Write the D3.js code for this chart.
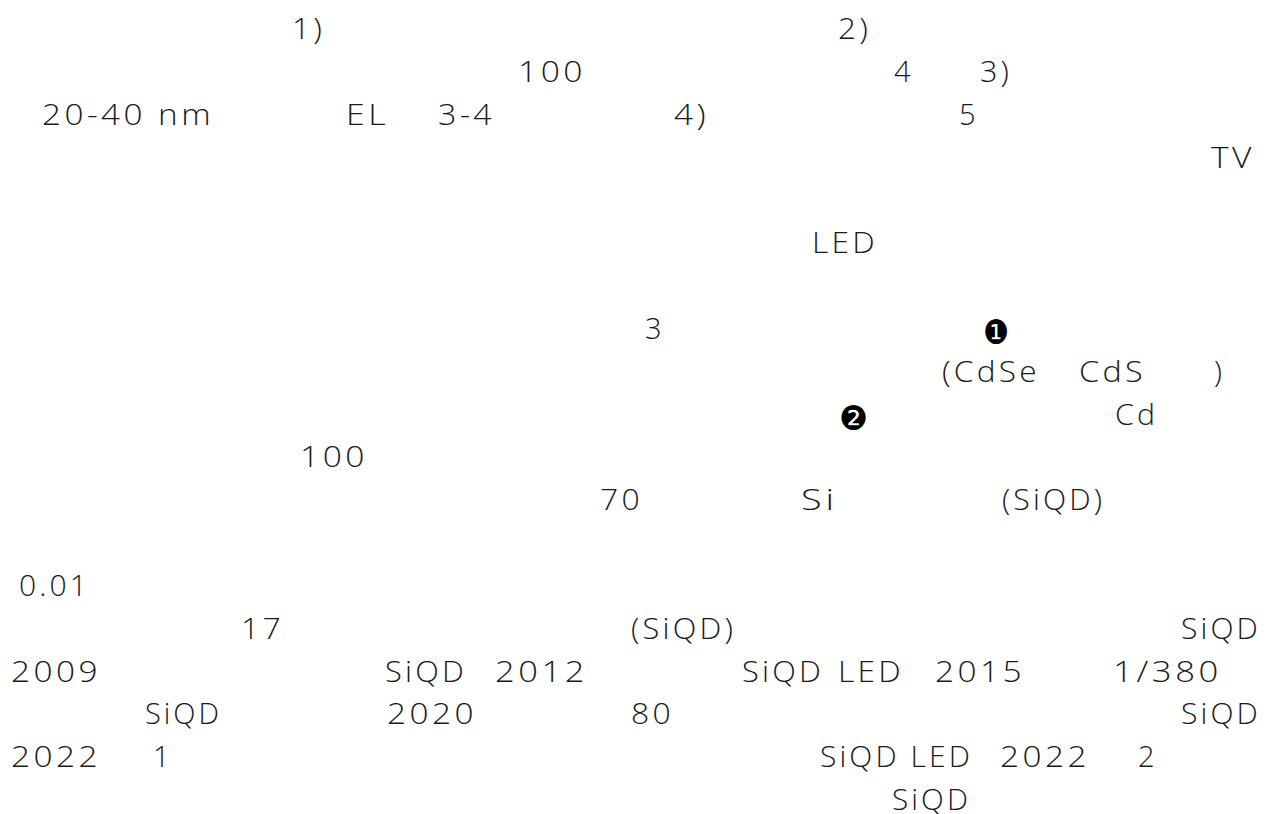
<!DOCTYPE html>
<html>
<head>
<meta charset="utf-8">
<script src="https://cdn.jsdelivr.net/npm/d3@7"></script>
<style>
  html, body { margin: 0; padding: 0; background: #fff; }
  svg { display: block; }
</style>
</head>
<body>
<div class="chart"></div>
<script>
// visible fragments of each text line: [line, from, to, text]
// (the Japanese glyphs of the source did not render, only these pieces show)
const fragments = [
  [0, 293, 322, "1)"], [0, 839, 868, "2)"],
  [1, 519, 583, "100"], [1, 895, 913, "4"], [1, 981, 1009, "3)"],
  [2, 43, 211, "20-40 nm"], [2, 347, 386, "EL"], [2, 439, 492, "3-4"], [2, 675, 706, "4)"], [2, 960, 977, "5"],
  [3, 1212, 1252, "TV"],
  [5, 813, 875, "LED"],
  [7, 646, 659, "3"],
  [8, 943, 1037, "(CdSe"], [8, 1080, 1143, "CdS"], [8, 1215, 1224, ")"],
  [9, 1116, 1155, "Cd"],
  [10, 301, 365, "100"],
  [11, 601, 640, "70"], [11, 802, 835, "Si"], [11, 1003, 1102, "(SiQD)"],
  [13, 20, 87, "0.01"],
  [14, 242, 281, "17"], [14, 632, 733, "(SiQD)"], [14, 1182, 1258, "SiQD"],
  [15, 12, 98, "2009"], [15, 386, 464, "SiQD"], [15, 496, 585, "2012"], [15, 743, 821, "SiQD"],
  [15, 839, 901, "LED"], [15, 936, 1022, "2015"], [15, 1114, 1219, "1/380"],
  [16, 146, 219, "SiQD"], [16, 388, 474, "2020"], [16, 632, 671, "80"], [16, 1182, 1258, "SiQD"],
  [17, 12, 98, "2022"], [17, 154, 164, "1"], [17, 821, 970, "SiQD LED"], [17, 1001, 1087, "2022"], [17, 1139, 1159, "2"],
  [18, 893, 968, "SiQD"]
]

// circled markers ❶ ❷
const markers = [
  [7, 983, 1009, "\u2776"],
  [9, 839, 868, "\u2777"]
]

const width = 1270
const height = 814

const svg = d3.select(".chart").append("svg")
  .attr("width", width)
  .attr("height", height)
  .attr("viewBox", [0, 0, width, height])

const y = d3.scaleLinear()
  .domain([0, 18])
  .range([39, 810])

const x = d3.scaleLinear()
  .domain([0, width])
  .range([0, width])

svg.selectAll(".frag")
  .data(fragments)
  .join("text")
  .attr("class", "frag")
  .attr("x", d => x(d[1]) - 1)
  .attr("y", d => y(d[0]))
  .attr("font-family", "'Open Sans', Lato, sans-serif")
  .attr("font-weight", 300)
  .attr("font-size", 29)
  .attr("letter-spacing", 3)
  .attr("fill", "#1a1a1a")
  .attr("textLength", d => d[3].length > 1 ? x(d[2]) - x(d[1]) + 4 : null)
  .attr("lengthAdjust", "spacingAndGlyphs")
  .text(d => d[3])

svg.selectAll(".marker")
  .data(markers)
  .join("text")
  .attr("class", "marker")
  .attr("x", d => x(d[1]))
  .attr("y", d => y(d[0]) + 5)
  .attr("font-family", "'DejaVu Sans', sans-serif")
  .attr("font-size", 34)
  .attr("fill", "#000")
  .attr("textLength", d => x(d[2]) - x(d[1]))
  .attr("lengthAdjust", "spacingAndGlyphs")
  .text(d => d[3])
</script>
</body>
</html>
